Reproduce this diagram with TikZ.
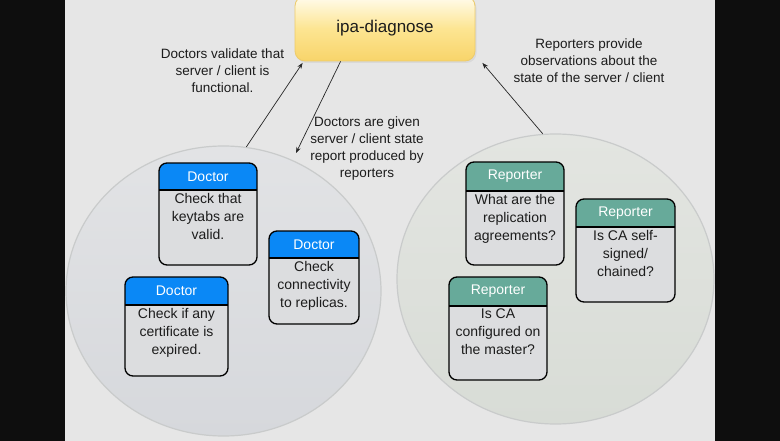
\documentclass[tikz,border=0pt]{standalone}
\usepackage{fontspec}
\setmainfont{Liberation Sans}
\usetikzlibrary{arrows.meta,fit,shapes.geometric,shadows}
\definecolor{bgblack}{HTML}{0E0E0E}
\definecolor{bggray}{HTML}{E6E6E6}
\definecolor{docblue}{HTML}{0A88F6}
\definecolor{repteal}{HTML}{67AA9A}
\definecolor{bodygray}{HTML}{DCDDDF}
\definecolor{ipatop}{HTML}{FFFCEE}
\definecolor{ipamid}{HTML}{FDE592}
\definecolor{ipabot}{HTML}{F8D46A}
\definecolor{ipaedge}{HTML}{EDCB6A}
\definecolor{leftcircA}{HTML}{E2E3E5}
\definecolor{leftcircB}{HTML}{D6D8DC}
\definecolor{rightcircA}{HTML}{E3E5E1}
\definecolor{rightcircB}{HTML}{D8DCD6}
\definecolor{circedge}{HTML}{C9CBCB}
\definecolor{txt}{HTML}{1C1C1C}
\tikzset{
  boxbody/.style={fill=bodygray},
  boxline/.style={draw=black, line width=1.3pt},
  boxframe/.style={draw=black, line width=1.3pt, rounded corners=8pt, inner sep=0pt, outer sep=0pt},
  hdrtext/.style={text=white, font=\fontsize{14}{16}\selectfont, inner sep=0pt},
  bodytext/.style={text=txt, anchor=north, align=center, font=\fontsize{14}{18}\selectfont, inner sep=0pt},
  lbl/.style={text=txt, align=center, font=\fontsize{13.5}{17}\selectfont, inner sep=0pt},
  conn/.style={draw=black!85, line width=0.7pt, -{Stealth[length=6pt,width=4.5pt]}},
  ipabox/.style={rounded corners=10pt, draw=ipaedge, line width=0.8pt, top color=ipatop, bottom color=ipabot, middle color=ipamid, font=\fontsize{17}{20}\selectfont, text=txt, inner sep=0pt, drop shadow={opacity=0.12, shadow xshift=1.5pt, shadow yshift=-2pt}},
  grp/.style={ellipse, inner sep=0pt, draw=circedge, line width=1.2pt}
}
\newcommand\agentbox[9]{%
  \path (#2,#3) coordinate (#1-nw) (#4,#5) coordinate (#1-se);
  \fill[boxbody, rounded corners=8pt] (#1-nw) rectangle (#1-se);
  \begin{scope}
    \clip[rounded corners=8pt] (#1-nw) rectangle (#1-se);
    \fill[#7] (#1-nw) rectangle (#4,#6);
  \end{scope}
  \draw[boxline] (#2,#6) -- (#4,#6);
  \node[boxframe, fit=(#1-nw)(#1-se)] (#1) {};
  \node[hdrtext] (#1-title) at ({(#2+#4)/2},{(#3+#6)/2}) {#8};
  \node[bodytext] (#1-body) at ({(#2+#4)/2},{#6+3}) {#9};
}
\begin{document}
\begin{tikzpicture}[x=1pt,y=-1pt]
\useasboundingbox (0,0) rectangle (780,441);
\fill[bgblack] (0,0) rectangle (780,441);
\fill[bggray] (65,0) rectangle (715,441);

% group circles
\node[grp, minimum width=315pt, minimum height=290pt, top color=leftcircA, bottom color=leftcircB] (docs) at (223.5,291) {};
\node[grp, minimum width=317pt, minimum height=290pt, top color=rightcircA, bottom color=rightcircB] (reps) at (555.5,279) {};

% main box
\node[ipabox, minimum width=180pt, minimum height=65pt] (ipa) at (385,28.5) {ipa-diagnose};

% doctors
\agentbox{d1}{159}{163}{257}{265}{190}{docblue}{Doctor}{Check that\\keytabs are\\valid.}
\agentbox{d2}{269}{231}{359}{324}{258}{docblue}{Doctor}{Check\\connectivity\\to replicas.}
\agentbox{d3}{125}{277}{228}{376}{305}{docblue}{Doctor}{Check if any\\certificate is\\expired.}

% reporters
\agentbox{r1}{466}{162}{564}{265}{191}{repteal}{Reporter}{What are the\\replication\\agreements?}
\agentbox{r2}{576}{199}{675}{302}{227}{repteal}{Reporter}{Is CA self-\\signed/\\chained?}
\agentbox{r3}{449}{277}{547}{380}{306}{repteal}{Reporter}{Is CA\\configured on\\the master?}

% connectors
\coordinate (given) at (296,153);
\draw[conn] (docs.81) -- ([xshift=8pt,yshift=-1.5pt]ipa.south west);
\draw[conn] ([xshift=46pt]ipa.south west) -- (given);
\draw[conn] (reps.95) -- ([xshift=7pt,yshift=-1.5pt]ipa.south east);

% labels
\node[lbl] (lab1) at (222.5,71) {Doctors validate that\\server / client is\\functional.};
\node[lbl] (lab2) at (367,148.5) {Doctors are given\\server / client state\\report produced by\\reporters};
\node[lbl] (lab3) at (589,61) {Reporters provide\\observations about the\\state of the server / client};
\end{tikzpicture}
\end{document}
